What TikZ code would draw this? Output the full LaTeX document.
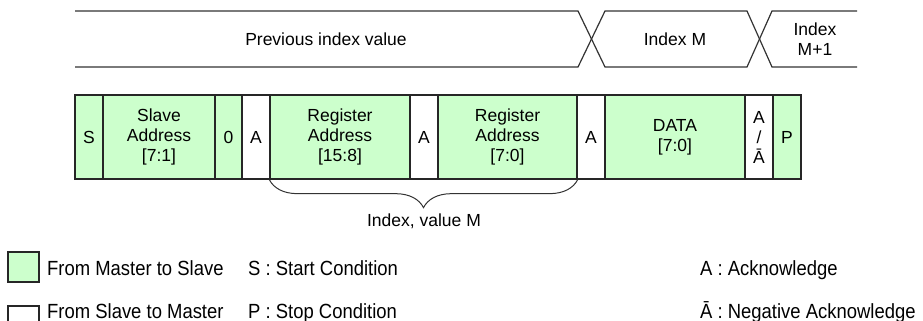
\documentclass[tikz,border=0pt]{standalone}
\usepackage{fontspec}
\setmainfont{Liberation Sans}
\newfontfamily\legendfont[FakeStretch=0.9]{Liberation Sans}
\usetikzlibrary{decorations.pathreplacing}
\definecolor{mgreen}{RGB}{204,255,204}
\definecolor{wavegray}{RGB}{51,51,51}

\begin{document}
\begin{tikzpicture}[x=1pt, y=-1pt,
    every node/.style={font=\fontsize{17.5}{20}\selectfont, align=center, inner sep=0pt},
    cell/.style={draw=black!85, line width=1.3pt, minimum height=84pt},
    mcell/.style={cell, fill=mgreen},
    scell/.style={cell, fill=white},
    wave/.style={draw=wavegray, line width=1.2pt},
    legtext/.style={anchor=base west, font=\legendfont\fontsize{20.5}{22}\selectfont}]
    \clip (0,0) rectangle (923,321);
    % index bus
    \draw[wave] (75,11) -- (578,11) -- (605,67) -- (747,67) -- (772,11) -- (857,11);
    \draw[wave] (75,67) -- (578,67) -- (605,11) -- (747,11) -- (772,67) -- (857,67);
    \node (prev) at (326,39) {Previous index value};
    \node (idxm) at (675,39) {Index M};
    \node (idxnext) at (815,39) {Index\\M+1};
    % frame
    \node[mcell, minimum width=28pt] (start) at (89,137) {S};
    \node[mcell, minimum width=112pt] (saddr) at (159,137) {Slave\\Address\\{[7:1]}};
    \node[mcell, minimum width=27pt] (rw) at (228.5,137) {0};
    \node[scell, minimum width=28pt] (ackA) at (256,137) {A};
    \node[mcell, minimum width=140pt] (raddrh) at (340,137) {Register\\Address\\{[15:8]}};
    \node[scell, minimum width=28pt] (ackB) at (424,137) {A};
    \node[mcell, minimum width=139pt] (raddrl) at (507.5,137) {Register\\Address\\{[7:0]}};
    \node[scell, minimum width=28pt] (ackC) at (591,137) {A};
    \node[mcell, minimum width=140pt] (data) at (675,137) {DATA\\{[7:0]}};
    \node[scell, minimum width=28pt] (nack) at (759,137) {A\\/\\Ā};
    \node[mcell, minimum width=28pt] (stop) at (787,137) {P};
    % index brace
    \draw[wavegray, line width=1pt, decorate, decoration={brace, mirror, amplitude=28pt}]
        (raddrh.south west) -- (raddrl.south east);
    \node (idxval) at (424,221) {Index, value M};
    % legend
    \node[mcell, minimum width=31pt, minimum height=30pt] (keyms) at (23.5,267) {};
    \node[scell, minimum width=31pt, minimum height=30pt] (keysm) at (23.5,321) {};
    \node[legtext] (keymstxt) at (47,275) {From Master to Slave};
    \node[legtext] (keysmtxt) at (47,318) {From Slave to Master};
    \node[legtext] (keystart) at (248,275) {S : Start Condition};
    \node[legtext] (keystop) at (248,318) {P : Stop Condition};
    \node[legtext] (keyack) at (700,275) {A : Acknowledge};
    \node[legtext] (keynack) at (700,318) {Ā : Negative Acknowledge};
\end{tikzpicture}
\end{document}
